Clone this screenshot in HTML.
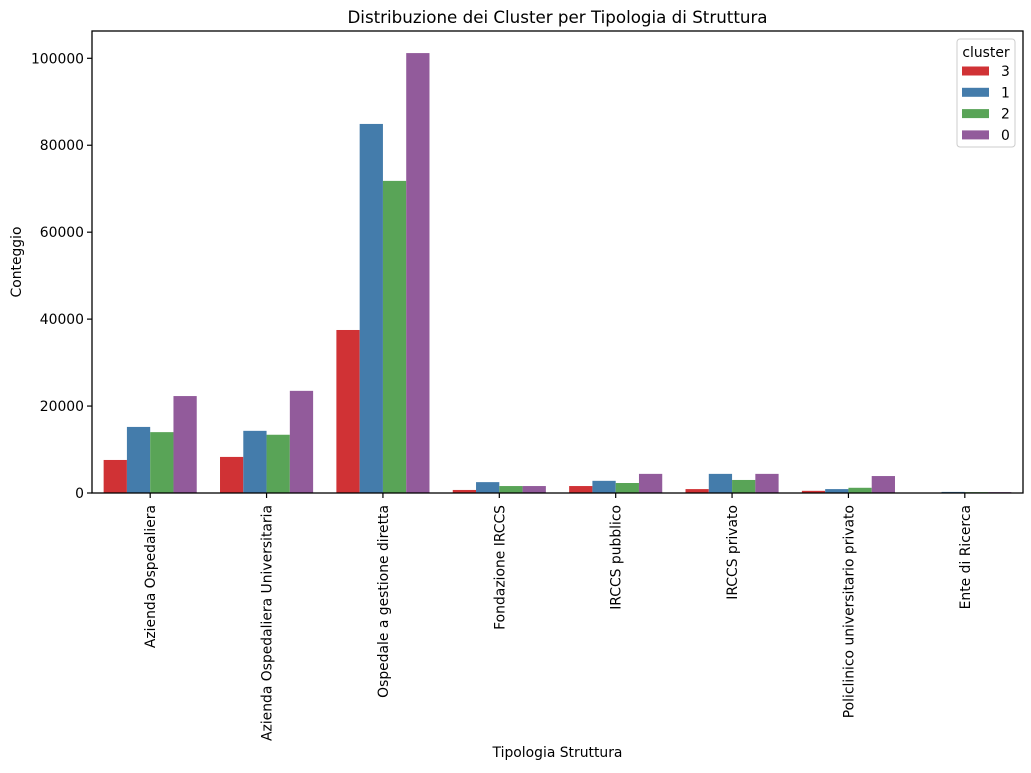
<!DOCTYPE html>
<html><head><meta charset="utf-8"><style>
body{margin:0;background:#fff;font-family:"DejaVu Sans","Liberation Sans",sans-serif;}
svg text{font-family:"DejaVu Sans","Liberation Sans",sans-serif;fill:#000;}
</style></head><body>
<svg id="chart" width="1031" height="769" xmlns="http://www.w3.org/2000/svg">
<g id="bars"></g>
<g id="axes"></g>
</svg>
<script>
const categories = ["Azienda Ospedaliera","Azienda Ospedaliera Universitaria","Ospedale a gestione diretta","Fondazione IRCCS","IRCCS pubblico","IRCCS privato","Policlinico universitario privato","Ente di Ricerca"];
const seriesNames = ["3","1","2","0"];
const cluster3 = [7600, 8300, 37500, 700, 1600, 900, 500, 0];
const cluster1 = [15200, 14300, 84900, 2500, 2800, 4400, 900, 250];
const cluster2 = [14000, 13400, 71800, 1600, 2300, 3000, 1200, 200];
const cluster0 = [22300, 23500, 101200, 1600, 4400, 4400, 3900, 200];
const yTicks = [0, 20000, 40000, 60000, 80000, 100000];

const series = [cluster3, cluster1, cluster2, cluster0];
const colors = ["#d03235","#447cab","#59a457","#925b9b"];
const NS = "http://www.w3.org/2000/svg";
const L = 92, R = 1023, T = 31, B = 493;
const yMax = 100000 * (B - T) / (B - 58.3);
function y(v){ return B - v / yMax * (B - T); }
const band = (R - L) / categories.length;
function xc(i){ return L + band * (i + 0.5); }
const bw = band * 0.8 / 4;
function mk(tag, attrs, parent){ const e = document.createElementNS(NS, tag); for (const k in attrs) e.setAttribute(k, attrs[k]); parent.appendChild(e); return e; }
const gb = document.getElementById('bars'), ga = document.getElementById('axes');
series.forEach((s, si) => {
  s.forEach((v, i) => {
    const r = mk('rect', {x: xc(i) - 2*bw + si*bw, y: y(v), width: bw, height: B - y(v), fill: colors[si]}, gb);
    
    
  });
});
const fr = mk('rect', {x: L, y: T, width: R - L, height: B - T, fill: 'none', stroke: '#000', 'stroke-width': 1.3}, ga);


yTicks.forEach(t => {
  mk('line', {x1: L - 5, x2: L, y1: y(t), y2: y(t), stroke: '#000', 'stroke-width': 1.2}, ga);
  const tx = mk('text', {x: L - 8, y: y(t) + 5, 'text-anchor': 'end', 'font-size': 13.9}, ga);
  tx.textContent = t;
  
  
});
categories.forEach((c, i) => {
  mk('line', {x1: xc(i), x2: xc(i), y1: B, y2: B + 5, stroke: '#000', 'stroke-width': 1.2}, ga);
  const tx = mk('text', {x: 0, y: 0, 'text-anchor': 'end', 'font-size': 13.9, transform: `translate(${xc(i) + 5},505) rotate(-90)`}, ga);
  tx.textContent = c;
  
  
});
const lg = mk('g', {}, ga);


mk('rect', {x: 957, y: 39, width: 58, height: 108, rx: 3, fill: '#fff', 'fill-opacity': 0.8, stroke: '#ccc'}, lg);
const lt = mk('text', {x: 986, y: 57, 'text-anchor': 'middle', 'font-size': 13.9}, lg);
lt.textContent = 'cluster';
seriesNames.forEach((n, si) => {
  const cy = 71 + si * 21.3;
  const p = mk('rect', {x: 962, y: cy - 4.5, width: 27, height: 9, fill: colors[si]}, lg);
  
  
  const t = mk('text', {x: 1001, y: cy + 5, 'font-size': 13.9}, lg);
  t.textContent = n;
});
const title = mk('text', {x: (L + R) / 2, y: 23, 'text-anchor': 'middle', 'font-size': 16.7}, ga);
title.textContent = 'Distribuzione dei Cluster per Tipologia di Struttura';


const xt = mk('text', {x: (L + R) / 2, y: 757, 'text-anchor': 'middle', 'font-size': 13.9}, ga);
xt.textContent = 'Tipologia Struttura';


const yt = mk('text', {x: 0, y: 0, 'text-anchor': 'middle', 'font-size': 13.9, transform: 'translate(21,262) rotate(-90)'}, ga);
yt.textContent = 'Conteggio';


</script>
</body></html>
